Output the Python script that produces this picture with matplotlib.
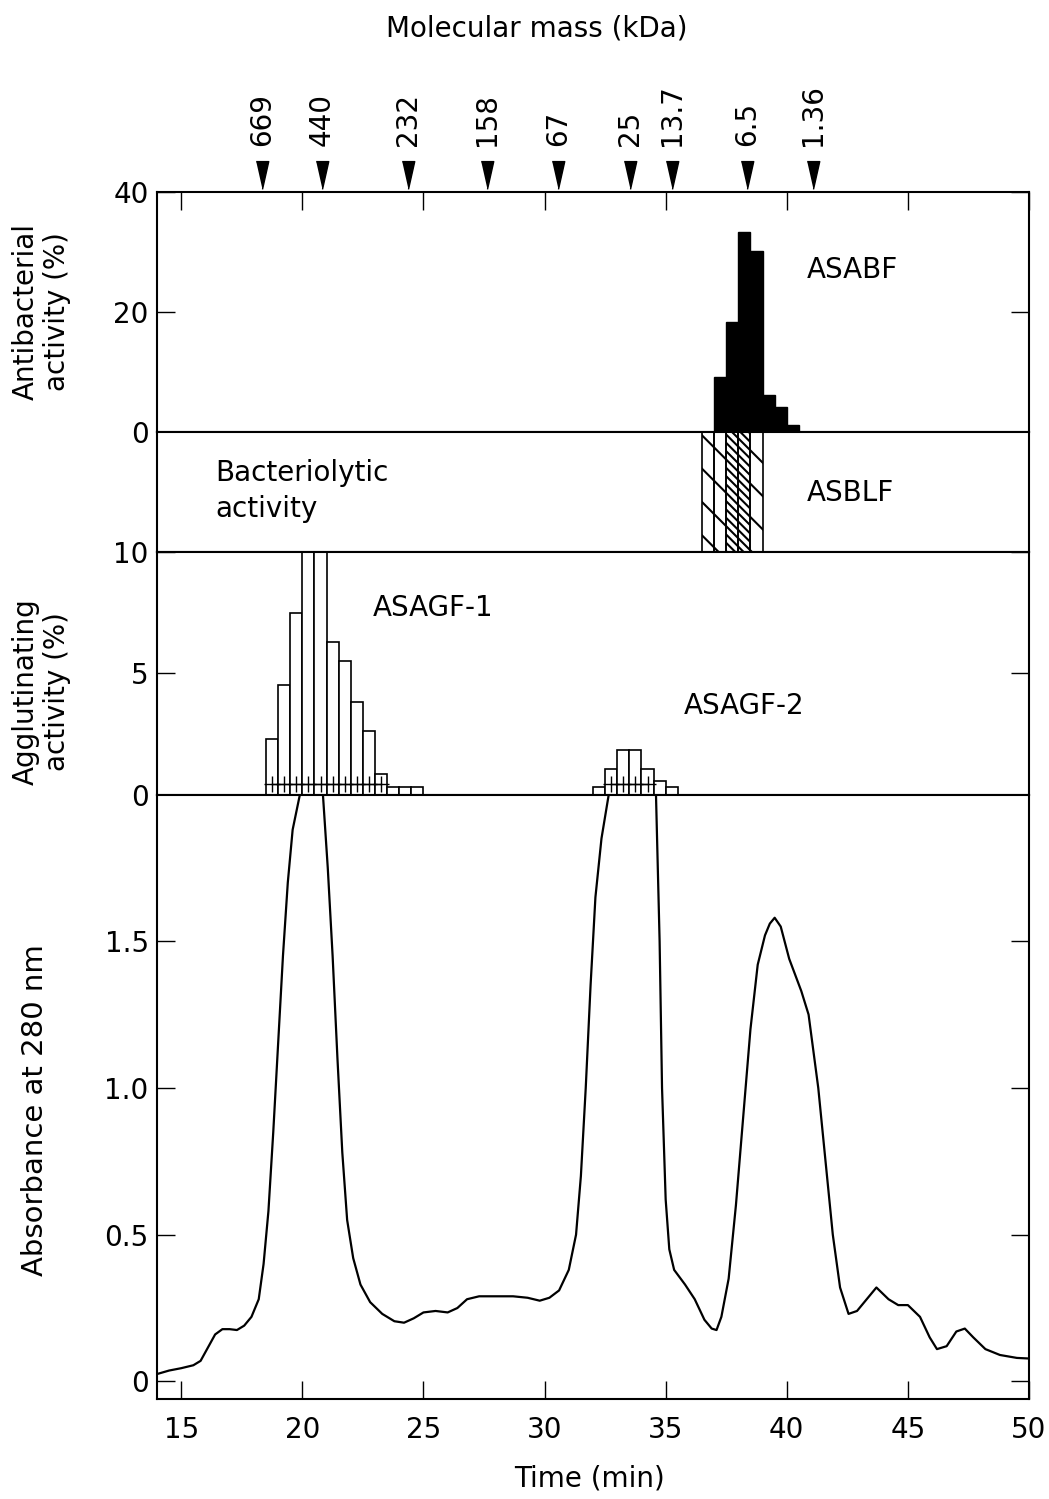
import numpy as np
import matplotlib.pyplot as plt
import matplotlib.transforms as mtransforms

plt.rcParams['font.family'] = ['DejaVu Sans']
plt.rcParams['hatch.linewidth'] = 1.5

# molecular mass markers (kDa) and their elution time (min)
mass_labels = ['669', '440', '232', '158', '67', '25', '13.7', '6.5', '1.36']
mass_time = [18.33, 20.81, 24.36, 27.62, 30.55, 33.52, 35.25, 38.35, 41.07]

# antibacterial activity (%), 0.5 min fractions (left edges)
abf_time = [37.0, 37.5, 38.0, 38.5, 39.0, 39.5, 40.0]
abf_val = [9.3, 18.3, 33.3, 30.2, 6.3, 4.3, 1.3]

# bacteriolytic activity, hatch density level per fraction
blf_time = [36.5, 37.0, 37.5, 38.0, 38.5]
blf_level = [1, 1, 3, 3, 1]

# agglutinating activity (%)
agf1_time = [18.5, 19.0, 19.5, 20.0, 20.5, 21.0, 21.5, 22.0, 22.5, 23.0, 23.5, 24.0, 24.5]
agf1_val = [2.3, 4.5, 7.5, 10.0, 10.0, 6.3, 5.5, 3.8, 2.6, 0.84, 0.32, 0.32, 0.32]
agf2_time = [32.0, 32.5, 33.0, 33.5, 34.0, 34.5, 35.0]
agf2_val = [0.3, 1.07, 1.82, 1.82, 1.07, 0.55, 0.3]
plus1_time = [18.75, 19.25, 19.75, 20.25, 20.75, 21.25, 21.75, 22.25, 22.75, 23.25]
plus2_time = [32.75, 33.25, 33.75, 34.25]
plus_level = 0.42

# absorbance at 280 nm
abs_t = [14.0, 14.5, 15.0, 15.5, 15.8, 16.0, 16.2, 16.4, 16.7, 17.0, 17.3, 17.6, 17.9, 18.2,
         18.4, 18.6, 18.8, 19.0, 19.2, 19.4, 19.6, 19.9, 20.4, 20.85,
         21.05, 21.25, 21.45, 21.65, 21.85, 22.1, 22.4, 22.8, 23.3, 23.8, 24.2,
         24.6, 25.0, 25.5, 26.0, 26.4, 26.8, 27.3, 28.0, 28.7, 29.3, 29.8, 30.2,
         30.6, 31.0, 31.3, 31.5, 31.7, 31.9, 32.1, 32.35, 32.65, 33.6, 34.6, 34.75,
         34.85, 35.0, 35.15, 35.35, 35.8, 36.2, 36.6, 36.9, 37.1, 37.3, 37.6, 37.9,
         38.2, 38.5, 38.8, 39.1, 39.3, 39.5, 39.75, 40.1, 40.6, 40.9, 41.3, 41.6, 41.9,
         42.2, 42.55, 42.9, 43.3, 43.7, 44.2, 44.6, 45.0, 45.5, 45.9, 46.2,
         46.6, 47.0, 47.35, 47.7, 48.2, 48.8, 49.5, 50.0]
abs_v = [0.025, 0.037, 0.045, 0.055, 0.07, 0.1, 0.13, 0.16, 0.178, 0.178, 0.175, 0.19, 0.22, 0.28,
         0.40, 0.58, 0.85, 1.15, 1.45, 1.7, 1.88, 2.0, 2.4, 2.0,
         1.75, 1.45, 1.10, 0.78, 0.55, 0.42, 0.33, 0.27, 0.23, 0.205, 0.20,
         0.215, 0.235, 0.24, 0.235, 0.25, 0.28, 0.29, 0.29, 0.29, 0.285, 0.275, 0.285,
         0.31, 0.38, 0.5, 0.7, 1.0, 1.35, 1.65, 1.85, 2.0, 2.4, 2.0, 1.5,
         1.0, 0.62, 0.45, 0.38, 0.33, 0.28, 0.21, 0.18, 0.175, 0.22, 0.35, 0.6,
         0.9, 1.2, 1.42, 1.52, 1.56, 1.58, 1.55, 1.44, 1.33, 1.25, 1.0, 0.75, 0.5,
         0.32, 0.23, 0.24, 0.28, 0.32, 0.28, 0.26, 0.26, 0.22, 0.15, 0.11,
         0.12, 0.17, 0.18, 0.15, 0.11, 0.09, 0.08, 0.078]

W, H = 1049, 1499
fig = plt.figure(figsize=(W / 100, H / 100), dpi=100)
gs = fig.add_gridspec(4, 1, height_ratios=[241, 120, 243, 606], hspace=0,
                      left=157 / W, right=1029 / W, top=1 - 192 / H, bottom=1 - 1399 / H)
ax1 = fig.add_subplot(gs[0])
ax2 = fig.add_subplot(gs[1], sharex=ax1)
ax3 = fig.add_subplot(gs[2], sharex=ax1)
ax4 = fig.add_subplot(gs[3], sharex=ax1)


def px(x, y):
    return x / W, 1 - y / H


fs = 20
for ax in (ax1, ax2, ax3, ax4):
    for s in ax.spines.values():
        s.set_linewidth(1.5)
    ax.tick_params(direction='in', length=13, width=1.0, labelsize=fs,
                   left=True, right=True, top=False, bottom=False,
                   labelbottom=False, pad=6)

ax4.set_xlim(14, 50)
ax4.set_xticks(range(15, 51, 5))
ax4.tick_params(axis='x', bottom=True, labelbottom=True, pad=12)
ax1.tick_params(axis='x', top=True)

# antibacterial
ax1.bar(abf_time, abf_val, width=0.5, align='edge', color='black', edgecolor='black', lw=1)
ax1.set_ylim(0, 40)
ax1.set_yticks([0, 20, 40])

# bacteriolytic
hatches = {1: '\\', 3: '\\\\\\\\'}
for t, lv in zip(blf_time, blf_level):
    ax2.bar(t, 1, width=0.5, align='edge', fill=False, edgecolor='black',
            lw=1.2, hatch=hatches[lv])
ax2.set_ylim(0, 1)
ax2.set_yticks([])
ax2.tick_params(left=False, right=False)

# agglutinating
ax3.bar(agf1_time, agf1_val, width=0.5, align='edge', facecolor='white', edgecolor='black', lw=1.2)
ax3.bar(agf2_time, agf2_val, width=0.5, align='edge', facecolor='white', edgecolor='black', lw=1.2)
ax3.plot(plus1_time, [plus_level] * len(plus1_time), '-+', color='black', lw=1, ms=11, mew=1)
ax3.plot(plus2_time, [plus_level] * len(plus2_time), '-+', color='black', lw=1, ms=11, mew=1)
ax3.set_ylim(0, 10)
ax3.set_yticks([0, 5, 10])

# absorbance
ax4.plot(abs_t, abs_v, color='black', lw=1.6)
ax4.set_ylim(-0.06, 2.0)
ax4.set_yticks([0, 0.5, 1.0, 1.5])
ax4.set_yticklabels(['0', '0.5', '1.0', '1.5'])

# molecular mass markers
tr = mtransforms.blended_transform_factory(ax1.transData, fig.transFigure)
tri = [(-0.45, 1), (0.45, 1), (0, -1)]
ax1.plot(mass_time, [1 - 175 / H] * len(mass_time), linestyle='none', marker=tri,
         ms=20, color='black', transform=tr, clip_on=False)
for t, lab in zip(mass_time, mass_labels):
    ax1.text(t, 1 - 146 / H, lab, rotation=90, ha='center', va='bottom',
             fontsize=fs, transform=tr)

fig.text(*px(537, 28), 'Molecular mass (kDa)', ha='center', va='center', fontsize=fs)
fig.text(*px(590, 1478), 'Time (min)', ha='center', va='center', fontsize=fs)
fig.text(*px(41, 312), 'Antibacterial\nactivity (%)', rotation=90, ha='center',
         va='center', fontsize=fs, linespacing=1.15)
fig.text(*px(41, 692), 'Agglutinating\nactivity (%)', rotation=90, ha='center',
         va='center', fontsize=fs, linespacing=1.15)
fig.text(*px(35, 1110), 'Absorbance at 280 nm', rotation=90, ha='center',
         va='center', fontsize=21)

fig.text(*px(852, 270), 'ASABF', ha='center', va='center', fontsize=fs)
fig.text(*px(850, 493), 'ASBLF', ha='center', va='center', fontsize=fs)
fig.text(*px(215, 491), 'Bacteriolytic\nactivity', ha='left', va='center',
         fontsize=fs, linespacing=1.4)
fig.text(*px(433, 608), 'ASAGF-1', ha='center', va='center', fontsize=fs)
fig.text(*px(744, 706), 'ASAGF-2', ha='center', va='center', fontsize=fs)

fig.savefig('out.png', dpi=100)
